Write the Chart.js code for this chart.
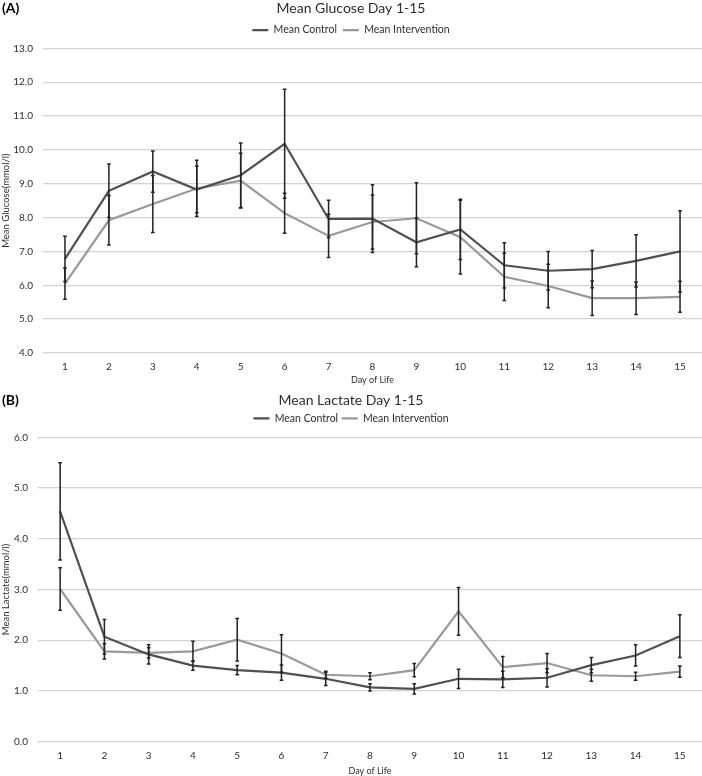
<!DOCTYPE html>
<html>
<head>
<meta charset="utf-8">
<script src="https://cdn.jsdelivr.net/npm/chart.js@4.4.1/dist/chart.umd.min.js"></script>
<style>
  html, body { margin: 0; padding: 0; background: #fff; }
  #wrap { position: relative; width: 702px; height: 776px; overflow: hidden; }
  canvas { position: absolute; left: 0; }
  .lab { position: absolute; left: 2px; font-family: Lato, "Liberation Sans", sans-serif; font-weight: bold; font-size: 14px; color: #000; line-height: 16px; }
</style>
</head>
<body>
<div id="wrap">
  <canvas id="c1" width="702" height="387" style="top:0px"></canvas>
  <canvas id="c2" width="702" height="389" style="top:387px"></canvas>
  <div class="lab" style="top:0px">(A)</div>
  <div class="lab" style="top:392px">(B)</div>
</div>
<script>
const days = ['1','2','3','4','5','6','7','8','9','10','11','12','13','14','15'];
const seriesNames = ['Mean Control', 'Mean Intervention'];

const glucoseControl = [6.78, 8.79, 9.36, 8.83, 9.25, 10.18, 7.96, 7.97, 7.27, 7.65, 6.59, 6.43, 6.48, 6.72, 7.00];
const glucoseControlErr = [0.67, 0.79, 0.61, 0.69, 0.95, 1.61, 0.55, 1.00, 0.72, 0.89, 0.67, 0.57, 0.55, 0.77, 1.20];
const glucoseIntervention = [6.05, 7.92, 8.40, 8.86, 9.09, 8.13, 7.46, 7.87, 7.98, 7.42, 6.25, 5.98, 5.62, 5.62, 5.66];
const glucoseInterventionErr = [0.46, 0.73, 0.84, 0.83, 0.81, 0.59, 0.64, 0.80, 1.05, 1.09, 0.70, 0.64, 0.51, 0.48, 0.46];

const lactateControl = [4.54, 2.07, 1.72, 1.50, 1.41, 1.36, 1.24, 1.07, 1.04, 1.24, 1.23, 1.26, 1.51, 1.70, 2.08];
const lactateControlErr = [0.96, 0.34, 0.19, 0.09, 0.09, 0.15, 0.13, 0.07, 0.10, 0.19, 0.16, 0.18, 0.15, 0.21, 0.42];
const lactateIntervention = [3.01, 1.78, 1.75, 1.78, 2.01, 1.74, 1.32, 1.29, 1.41, 2.57, 1.47, 1.55, 1.31, 1.29, 1.38];
const lactateInterventionErr = [0.42, 0.15, 0.10, 0.20, 0.42, 0.37, 0.07, 0.07, 0.13, 0.47, 0.21, 0.19, 0.12, 0.08, 0.11];

const FONT = 'Lato, "Liberation Sans", sans-serif';
const TEXT_COLOR = '#2e2e2e';
const CONTROL_COLOR = '#505050';
const INTERV_COLOR = '#999999';

const errorBarsPlugin = {
  id: 'errorBars',
  afterDatasetsDraw(chart, args, opts) {
    const ctx = chart.ctx;
    const xs = chart.scales.x, ys = chart.scales.y;
    ctx.save();
    ctx.strokeStyle = '#222222';
    ctx.lineWidth = 1.5;
    chart.data.datasets.forEach((ds, di) => {
      const errs = opts.errors[di];
      ds.data.forEach((v, i) => {
        const px = xs.getPixelForValue(i);
        const yT = ys.getPixelForValue(v + errs[i]);
        const yB = ys.getPixelForValue(v - errs[i]);
        ctx.beginPath();
        ctx.moveTo(px, yT); ctx.lineTo(px, yB);
        ctx.moveTo(px - 1.8, yT); ctx.lineTo(px + 1.8, yT);
        ctx.moveTo(px - 1.8, yB); ctx.lineTo(px + 1.8, yB);
        ctx.stroke();
      });
    });
    ctx.restore();
  }
};

const legendExtraPlugin = {
  id: 'legendExtra',
  afterInit(chart, args, opts) {
    const lg = chart.legend;
    if (!lg) return;
    const orig = lg.fit.bind(lg);
    lg.fit = function () { orig(); this.height += (opts.extra || 0); };
  }
};

function makeChart(id, cfg) {
  return new Chart(document.getElementById(id), {
    type: 'line',
    data: {
      labels: days,
      datasets: [
        { label: seriesNames[0], data: cfg.control, borderColor: CONTROL_COLOR, backgroundColor: CONTROL_COLOR, borderWidth: 2.2, pointRadius: 0, tension: 0, fill: false },
        { label: seriesNames[1], data: cfg.interv, borderColor: INTERV_COLOR, backgroundColor: INTERV_COLOR, borderWidth: 2.2, pointRadius: 0, tension: 0, fill: false }
      ]
    },
    options: {
      responsive: false,
      animation: false,
      devicePixelRatio: 1,
      layout: { padding: 0 },
      plugins: {
        title: {
          display: true, text: cfg.title, color: TEXT_COLOR,
          font: { family: FONT, size: 14, weight: 'normal' },
          padding: { top: cfg.titleTop, bottom: cfg.titleBottom }
        },
        legend: {
          display: true, position: 'top',
          labels: {
            usePointStyle: true, pointStyle: 'line', pointStyleWidth: 16,
            color: TEXT_COLOR, font: { family: FONT, size: 10.5 }, padding: cfg.legendPad
          }
        },
        legendExtra: { extra: cfg.legendExtra },
        errorBars: { errors: cfg.errors },
        tooltip: { enabled: false }
      },
      scales: {
        x: {
          type: 'category', offset: true,
          grid: { display: false, drawTicks: false },
          border: { display: false },
          ticks: { color: TEXT_COLOR, font: { family: FONT, size: 10 }, padding: 8, maxRotation: 0, autoSkip: false },
          title: { display: true, text: 'Day of Life', color: TEXT_COLOR, font: { family: FONT, size: 9 }, padding: { top: 0, bottom: cfg.xTitleBottom } },
          afterFit(s) { s.height = cfg.xHeight; }
        },
        y: {
          min: cfg.yMin, max: cfg.yMax,
          grid: { color: '#d3d3d3', lineWidth: 1.3, drawTicks: false },
          border: { display: false },
          ticks: { stepSize: 1, color: TEXT_COLOR, font: { family: FONT, size: 10 }, padding: 10, callback: v => Number(v).toFixed(1) },
          title: { display: true, text: cfg.yTitle, color: TEXT_COLOR, font: { family: FONT, size: 9.5 }, padding: 0 },
          afterFit(s) { s.width = cfg.yWidth; }
        }
      }
    },
    plugins: [errorBarsPlugin, legendExtraPlugin]
  });
}

makeChart('c1', {
  title: 'Mean Glucose Day 1-15',
  yTitle: 'Mean Glucose(mmol/l)',
  control: glucoseControl, interv: glucoseIntervention,
  errors: [glucoseControlErr, glucoseInterventionErr],
  yMin: 4, yMax: 13,
  titleTop: 0, titleBottom: 2, legendPad: 6, legendExtra: 3,
  xHeight: 34, xTitleBottom: 2, yWidth: 43
});

makeChart('c2', {
  title: 'Mean Lactate Day 1-15',
  yTitle: 'Mean Lactate(mmol/l)',
  control: lactateControl, interv: lactateIntervention,
  errors: [lactateControlErr, lactateInterventionErr],
  yMin: 0, yMax: 6,
  titleTop: 4.6, titleBottom: 1, legendPad: 3.65, legendExtra: 3.75,
  xHeight: 34.3, xTitleBottom: 0, yWidth: 38
});
</script>
</body>
</html>
